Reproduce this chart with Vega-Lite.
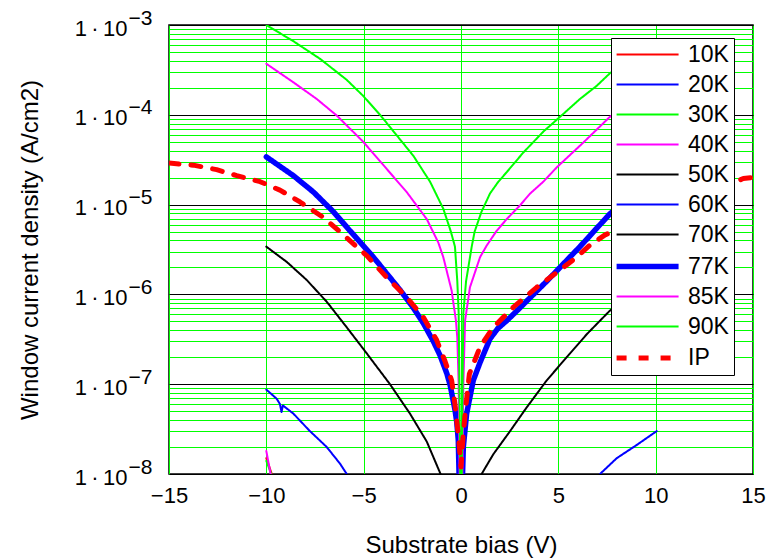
{
  "$schema": "https://vega.github.io/schema/vega-lite/v6.json",
  "width": 584,
  "height": 449,
  "autosize": "none",
  "padding": {"left": 169, "top": 25, "right": 24, "bottom": 86},
  "background": "white",
  "config": {
    "font": "Liberation Sans",
    "view": {"stroke": "black", "strokeWidth": 1.5},
    "axis": {"labelFont": "Liberation Sans", "titleFont": "Liberation Sans", "labelColor": "black", "titleColor": "black", "titleFontWeight": "normal", "ticks": false, "tickSize": 0, "domain": false},
    "axisX": {"grid": true, "gridColor": "#00ff00", "gridWidth": 1, "gridOpacity": 1, "labelFontSize": 22, "labelPadding": 11, "titleFontSize": 24, "titlePadding": 27, "labelFlush": false},
    "legend": {"labelFont": "Liberation Sans", "labelFontSize": 23, "labelColor": "black"}
  },
  "data": {"values": [
    {"s": "10K", "x": -10, "y": 1.5e-8}, {"s": "10K", "x": -9.72, "y": 1.0e-8}, {"s": "10K", "x": -9.5, "y": 6e-9},
    {"s": "20K", "x": -10, "y": 8e-9}, {"s": "20K", "x": -9.5, "y": 5e-9},
    {"s": "30K", "x": -10, "y": 1.4e-8}, {"s": "30K", "x": -9.75, "y": 1.0e-8}, {"s": "30K", "x": -9.5, "y": 6e-9},
    {"s": "40K", "x": -10, "y": 1.8e-8}, {"s": "40K", "x": -9.78, "y": 1.0e-8}, {"s": "40K", "x": -9.5, "y": 5e-9},
    {"s": "50K", "x": -10, "y": 7e-9}, {"s": "50K", "x": -9.5, "y": 4e-9},
    {"s": "60K", "x": -10, "y": 8.7e-8}, {"s": "60K", "x": -9.47, "y": 6.9e-8}, {"s": "60K", "x": -9.3, "y": 6.0e-8}, {"s": "60K", "x": -9.22, "y": 4.9e-8}, {"s": "60K", "x": -9.15, "y": 5.8e-8}, {"s": "60K", "x": -8.61, "y": 4.7e-8}, {"s": "60K", "x": -7.76, "y": 3.0e-8}, {"s": "60K", "x": -6.9, "y": 2.0e-8}, {"s": "60K", "x": -6.21, "y": 1.3e-8}, {"s": "60K", "x": -5.87, "y": 1.0e-8}, {"s": "60K", "x": -5.5, "y": 6e-9}, {"s": "60K", "x": 0, "y": 1e-10}, {"s": "60K", "x": 6.8, "y": 6e-9}, {"s": "60K", "x": 7.14, "y": 1.0e-8}, {"s": "60K", "x": 8.0, "y": 1.5e-8}, {"s": "60K", "x": 9.02, "y": 2.1e-8}, {"s": "60K", "x": 10.05, "y": 3.0e-8},
    {"s": "70K", "x": -10, "y": 3.4e-6}, {"s": "70K", "x": -8.95, "y": 2.3e-6}, {"s": "70K", "x": -7.93, "y": 1.45e-6}, {"s": "70K", "x": -6.9, "y": 8.3e-7}, {"s": "70K", "x": -5.87, "y": 4.3e-7}, {"s": "70K", "x": -4.84, "y": 2.2e-7}, {"s": "70K", "x": -3.65, "y": 1.0e-7}, {"s": "70K", "x": -2.62, "y": 4.7e-8}, {"s": "70K", "x": -1.76, "y": 2.3e-8}, {"s": "70K", "x": -1.05, "y": 1.0e-8}, {"s": "70K", "x": 0, "y": 1e-10}, {"s": "70K", "x": 1.06, "y": 1.0e-8}, {"s": "70K", "x": 1.66, "y": 1.66e-8}, {"s": "70K", "x": 2.52, "y": 3.0e-8}, {"s": "70K", "x": 3.37, "y": 5.5e-8}, {"s": "70K", "x": 4.4, "y": 1.1e-7}, {"s": "70K", "x": 5.43, "y": 2.0e-7}, {"s": "70K", "x": 6.46, "y": 3.6e-7}, {"s": "70K", "x": 7.65, "y": 6.6e-7}, {"s": "70K", "x": 10, "y": 1.5e-6},
    {"s": "77K", "x": -10, "y": 3.4e-5}, {"s": "77K", "x": -8.61, "y": 2.1e-5}, {"s": "77K", "x": -7.58, "y": 1.38e-5}, {"s": "77K", "x": -6.55, "y": 8.3e-6}, {"s": "77K", "x": -5.7, "y": 5.1e-6}, {"s": "77K", "x": -4.5, "y": 2.6e-6}, {"s": "77K", "x": -3.13, "y": 1.12e-6}, {"s": "77K", "x": -2.45, "y": 7.1e-7}, {"s": "77K", "x": -1.94, "y": 4.8e-7}, {"s": "77K", "x": -1.42, "y": 3.0e-7}, {"s": "77K", "x": -1.08, "y": 2.1e-7}, {"s": "77K", "x": -0.73, "y": 1.32e-7}, {"s": "77K", "x": -0.56, "y": 9.8e-8}, {"s": "77K", "x": -0.31, "y": 5.2e-8}, {"s": "77K", "x": -0.22, "y": 3.8e-8}, {"s": "77K", "x": -0.14, "y": 2.4e-8}, {"s": "77K", "x": -0.1, "y": 1.0e-8}, {"s": "77K", "x": 0, "y": 1e-9}, {"s": "77K", "x": 0.08, "y": 1.0e-8}, {"s": "77K", "x": 0.12, "y": 2.0e-8}, {"s": "77K", "x": 0.29, "y": 4.7e-8}, {"s": "77K", "x": 0.63, "y": 1.1e-7}, {"s": "77K", "x": 0.98, "y": 1.75e-7}, {"s": "77K", "x": 1.49, "y": 3.2e-7}, {"s": "77K", "x": 1.9, "y": 4.2e-7}, {"s": "77K", "x": 2.35, "y": 5.1e-7}, {"s": "77K", "x": 2.69, "y": 6.0e-7}, {"s": "77K", "x": 4.4, "y": 1.4e-6}, {"s": "77K", "x": 6.11, "y": 3.4e-6}, {"s": "77K", "x": 7.65, "y": 7.9e-6}, {"s": "77K", "x": 10, "y": 2.0e-5},
    {"s": "85K", "x": -10, "y": 3.7e-4}, {"s": "85K", "x": -8.61, "y": 2.3e-4}, {"s": "85K", "x": -7.41, "y": 1.5e-4}, {"s": "85K", "x": -6.38, "y": 9.8e-5}, {"s": "85K", "x": -5.02, "y": 5.0e-5}, {"s": "85K", "x": -3.82, "y": 2.5e-5}, {"s": "85K", "x": -2.79, "y": 1.38e-5}, {"s": "85K", "x": -1.76, "y": 6.9e-6}, {"s": "85K", "x": -1.17, "y": 3.8e-6}, {"s": "85K", "x": -0.91, "y": 2.6e-6}, {"s": "85K", "x": -0.48, "y": 1.1e-6}, {"s": "85K", "x": -0.26, "y": 5.1e-7}, {"s": "85K", "x": -0.19, "y": 3.3e-7}, {"s": "85K", "x": -0.12, "y": 1.0e-7}, {"s": "85K", "x": -0.07, "y": 1.0e-8}, {"s": "85K", "x": 0, "y": 1e-9}, {"s": "85K", "x": 0.07, "y": 1.0e-8}, {"s": "85K", "x": 0.12, "y": 1.0e-7}, {"s": "85K", "x": 0.21, "y": 5.1e-7}, {"s": "85K", "x": 0.46, "y": 1.2e-6}, {"s": "85K", "x": 0.98, "y": 2.6e-6}, {"s": "85K", "x": 1.32, "y": 3.5e-6}, {"s": "85K", "x": 1.83, "y": 5.1e-6}, {"s": "85K", "x": 2.35, "y": 6.9e-6}, {"s": "85K", "x": 3.03, "y": 9.8e-6}, {"s": "85K", "x": 3.54, "y": 1.32e-5}, {"s": "85K", "x": 4.23, "y": 1.8e-5}, {"s": "85K", "x": 4.92, "y": 2.6e-5}, {"s": "85K", "x": 6.28, "y": 4.9e-5}, {"s": "85K", "x": 7.65, "y": 9.5e-5}, {"s": "85K", "x": 10, "y": 2.2e-4},
    {"s": "90K", "x": -10, "y": 1.0e-3}, {"s": "90K", "x": -8.61, "y": 6.6e-4}, {"s": "90K", "x": -7.24, "y": 4.2e-4}, {"s": "90K", "x": -5.87, "y": 2.45e-4}, {"s": "90K", "x": -5.02, "y": 1.62e-4}, {"s": "90K", "x": -4.16, "y": 1.0e-4}, {"s": "90K", "x": -3.3, "y": 5.9e-5}, {"s": "90K", "x": -2.45, "y": 3.5e-5}, {"s": "90K", "x": -1.59, "y": 1.8e-5}, {"s": "90K", "x": -0.91, "y": 9.0e-6}, {"s": "90K", "x": -0.52, "y": 5.0e-6}, {"s": "90K", "x": -0.31, "y": 3.4e-6}, {"s": "90K", "x": -0.19, "y": 1.4e-6}, {"s": "90K", "x": -0.12, "y": 6.2e-7}, {"s": "90K", "x": -0.08, "y": 1.0e-7}, {"s": "90K", "x": -0.04, "y": 1.0e-8}, {"s": "90K", "x": 0, "y": 1e-9}, {"s": "90K", "x": 0.04, "y": 1.0e-8}, {"s": "90K", "x": 0.08, "y": 1.0e-7}, {"s": "90K", "x": 0.12, "y": 6.2e-7}, {"s": "90K", "x": 0.26, "y": 1.4e-6}, {"s": "90K", "x": 0.55, "y": 3.4e-6}, {"s": "90K", "x": 0.7, "y": 5.0e-6}, {"s": "90K", "x": 1.05, "y": 8.3e-6}, {"s": "90K", "x": 1.49, "y": 1.33e-5}, {"s": "90K", "x": 1.92, "y": 1.8e-5}, {"s": "90K", "x": 2.35, "y": 2.3e-5}, {"s": "90K", "x": 3.2, "y": 3.8e-5}, {"s": "90K", "x": 4.23, "y": 6.5e-5}, {"s": "90K", "x": 5.25, "y": 1.02e-4}, {"s": "90K", "x": 6.11, "y": 1.5e-4}, {"s": "90K", "x": 6.97, "y": 2.1e-4}, {"s": "90K", "x": 7.65, "y": 2.9e-4}, {"s": "90K", "x": 8.5, "y": 3.9e-4}, {"s": "90K", "x": 10, "y": 6.0e-4},
    {"s": "IP", "x": -15, "y": 2.9e-5}, {"s": "IP", "x": -13.75, "y": 2.75e-5}, {"s": "IP", "x": -12.55, "y": 2.45e-5}, {"s": "IP", "x": -11.52, "y": 2.1e-5}, {"s": "IP", "x": -10.32, "y": 1.8e-5}, {"s": "IP", "x": -9.3, "y": 1.45e-5}, {"s": "IP", "x": -8.27, "y": 1.07e-5}, {"s": "IP", "x": -7.07, "y": 7.2e-6}, {"s": "IP", "x": -6.04, "y": 4.6e-6}, {"s": "IP", "x": -4.84, "y": 2.7e-6}, {"s": "IP", "x": -3.82, "y": 1.55e-6}, {"s": "IP", "x": -2.79, "y": 9.3e-7}, {"s": "IP", "x": -1.94, "y": 5.6e-7}, {"s": "IP", "x": -1.25, "y": 3.1e-7}, {"s": "IP", "x": -0.82, "y": 1.8e-7}, {"s": "IP", "x": -0.48, "y": 1.1e-7}, {"s": "IP", "x": -0.31, "y": 6.0e-8}, {"s": "IP", "x": -0.12, "y": 2.5e-8}, {"s": "IP", "x": 0, "y": 1.2e-8}, {"s": "IP", "x": 0.1, "y": 2.5e-8}, {"s": "IP", "x": 0.21, "y": 4.7e-8}, {"s": "IP", "x": 0.43, "y": 1.3e-7}, {"s": "IP", "x": 0.98, "y": 2.6e-7}, {"s": "IP", "x": 1.66, "y": 4.3e-7}, {"s": "IP", "x": 2.69, "y": 7.2e-7}, {"s": "IP", "x": 3.89, "y": 1.2e-6}, {"s": "IP", "x": 5.08, "y": 1.86e-6}, {"s": "IP", "x": 5.94, "y": 2.6e-6}, {"s": "IP", "x": 6.6, "y": 3.5e-6}, {"s": "IP", "x": 7.4, "y": 4.6e-6}, {"s": "IP", "x": 10, "y": 8.0e-6}, {"s": "IP", "x": 12.5, "y": 1.3e-5}, {"s": "IP", "x": 14.5, "y": 1.95e-5}, {"s": "IP", "x": 15, "y": 2.0e-5}
  ]},
  "layer": [
    {
      "mark": {"type": "point", "opacity": 0, "size": 0},
      "encoding": {
        "x": {"field": "x", "type": "quantitative", "scale": {"domain": [-15, 15], "nice": false, "zero": false}, "title": "Substrate bias (V)", "axis": {"values": [-15, -10, -5, 0, 5, 10, 15]}},
        "y": {"field": "y", "type": "quantitative", "scale": {"type": "log", "domain": [1e-8, 1e-3], "nice": false},
          "axis": {"orient": "left", "values": [2e-8, 3e-8, 4e-8, 5e-8, 6e-8, 7e-8, 8e-8, 9e-8, 2e-7, 3e-7, 4e-7, 5e-7, 6e-7, 7e-7, 8e-7, 9e-7, 2e-6, 3e-6, 4e-6, 5e-6, 6e-6, 7e-6, 8e-6, 9e-6, 2e-5, 3e-5, 4e-5, 5e-5, 6e-5, 7e-5, 8e-5, 9e-5, 2e-4, 3e-4, 4e-4, 5e-4, 6e-4, 7e-4, 8e-4, 9e-4], "grid": true, "gridColor": "#00ff00", "gridWidth": 1, "gridOpacity": 1, "labels": false, "title": null}}
      }
    },
    {
      "mark": {"type": "point", "opacity": 0, "size": 0},
      "encoding": {
        "x": {"field": "x", "type": "quantitative", "title": "Substrate bias (V)", "axis": {"values": [-15, -10, -5, 0, 5, 10, 15]}},
        "y": {"field": "y", "type": "quantitative",
          "axis": {"orient": "left", "values": [1e-8, 1e-7, 1e-6, 1e-5, 1e-4, 1e-3], "grid": false, "labelExpr": "'\u2212' + round(-log(datum.value)/LN10)", "labelAlign": "left", "labelBaseline": "middle", "labelPadding": 41, "labelOffset": -7, "labelFontSize": 21, "title": null}}
      }
    },
    {
      "mark": {"type": "line", "clip": true, "strokeCap": "round", "strokeJoin": "round"},
      "encoding": {
        "x": {"field": "x", "type": "quantitative", "title": "Substrate bias (V)", "axis": {"values": [-15, -10, -5, 0, 5, 10, 15]}},
        "y": {"field": "y", "type": "quantitative",
          "axis": {"orient": "left", "values": [1e-8, 1e-7, 1e-6, 1e-5, 1e-4, 1e-3], "grid": true, "gridColor": "black", "gridWidth": 1.2, "gridOpacity": 1, "labelExpr": "'1\u2009\u00b7\u200910'", "labelAlign": "right", "labelBaseline": "middle", "labelPadding": 42, "labelOffset": 3, "labelFontSize": 22, "title": "Window current density (A/cm2)", "titleFontSize": 24, "titlePadding": 32}},
        "color": {"field": "s", "type": "nominal",
          "scale": {"domain": ["10K", "20K", "30K", "40K", "50K", "60K", "70K", "77K", "85K", "90K", "IP"], "range": ["#ff0000", "#0000ff", "#00ff00", "#ff00ff", "#000000", "#0000ff", "#000000", "#0000ff", "#ff00ff", "#00ff00", "#ff0000"]},
          "legend": {"title": null, "orient": "none", "legendX": 442, "legendY": 13, "strokeColor": "black", "fillColor": "white", "padding": 5, "symbolType": "M-1.25,0H4.75", "symbolSize": 427, "labelOffset": 45, "rowPadding": 6}},
        "strokeWidth": {"field": "s", "type": "nominal",
          "scale": {"type": "ordinal", "domain": ["10K", "20K", "30K", "40K", "50K", "60K", "70K", "77K", "85K", "90K", "IP"], "range": [2, 2, 2, 2, 2, 2, 2, 5.5, 2, 2, 5]},
          "legend": {"title": null, "orient": "none", "legendX": 442, "legendY": 13, "strokeColor": "black", "fillColor": "white", "padding": 5, "symbolType": "M-1.25,0H4.75", "symbolSize": 427, "labelOffset": 45, "rowPadding": 6}},
        "strokeDash": {"field": "s", "type": "nominal",
          "scale": {"domain": ["10K", "20K", "30K", "40K", "50K", "60K", "70K", "77K", "85K", "90K", "IP"], "range": [[1, 0], [1, 0], [1, 0], [1, 0], [1, 0], [1, 0], [1, 0], [1, 0], [1, 0], [1, 0], [10, 12]]},
          "legend": {"title": null, "orient": "none", "legendX": 442, "legendY": 13, "strokeColor": "black", "fillColor": "white", "padding": 5, "symbolType": "M-1.25,0H4.75", "symbolSize": 427, "labelOffset": 45, "rowPadding": 6}}
      }
    }
  ],
  "resolve": {"axis": {"y": "independent"}}
}
